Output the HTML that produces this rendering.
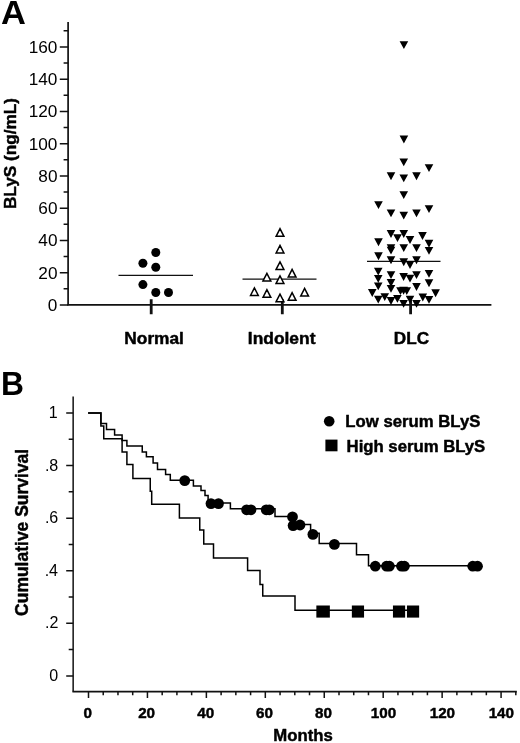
<!DOCTYPE html>
<html lang="en"><head><meta charset="utf-8"><title>Figure</title>
<style>
html,body{margin:0;padding:0;background:#fff;}
body{width:520px;height:743px;overflow:hidden;}
svg{display:block;will-change:transform;}
text{font-family:"Liberation Sans",Arial,Helvetica,sans-serif;fill:#000;}
.b{font-weight:bold;stroke:#000;stroke-width:0.45px;stroke-linejoin:round;}
.h{font-weight:bold;}
</style></head><body>
<svg width="520" height="743" viewBox="0 0 520 743">
<rect width="520" height="743" fill="#fff"/>
<g id="panelA">
<text class="h" x="1.04" y="23.85" font-size="33.02" textLength="24.90" lengthAdjust="spacingAndGlyphs">A</text>
<path d="M68.1 22.1V305.2" fill="none" stroke="#111" stroke-width="1.7"/>
<path d="M67.25 304.9H491.4" fill="none" stroke="#111" stroke-width="1.7"/>
<path d="M59.8 304.90H68.1M59.8 272.65H68.1M59.8 240.40H68.1M59.8 208.15H68.1M59.8 175.90H68.1M59.8 143.65H68.1M59.8 111.40H68.1M59.8 79.15H68.1M59.8 46.90H68.1M63.6 288.77H68.1M63.6 256.52H68.1M63.6 224.27H68.1M63.6 192.02H68.1M63.6 159.77H68.1M63.6 127.52H68.1M63.6 95.27H68.1M63.6 63.02H68.1M63.6 30.77H68.1" fill="none" stroke="#111" stroke-width="1.5"/>
<text x="47.88" y="310.75" font-size="16.90" textLength="9.59" lengthAdjust="spacingAndGlyphs">0</text>
<text x="38.31" y="278.50" font-size="16.90" textLength="19.17" lengthAdjust="spacingAndGlyphs">20</text>
<text x="38.31" y="246.25" font-size="16.90" textLength="19.17" lengthAdjust="spacingAndGlyphs">40</text>
<text x="38.31" y="214.00" font-size="16.90" textLength="19.17" lengthAdjust="spacingAndGlyphs">60</text>
<text x="38.31" y="181.75" font-size="16.90" textLength="19.17" lengthAdjust="spacingAndGlyphs">80</text>
<text x="28.70" y="149.50" font-size="16.90" textLength="28.76" lengthAdjust="spacingAndGlyphs">100</text>
<text x="28.70" y="117.25" font-size="16.90" textLength="28.76" lengthAdjust="spacingAndGlyphs">120</text>
<text x="28.70" y="85.00" font-size="16.90" textLength="28.76" lengthAdjust="spacingAndGlyphs">140</text>
<text x="28.70" y="52.75" font-size="16.90" textLength="28.76" lengthAdjust="spacingAndGlyphs">160</text>
<text class="b" font-size="17.07" transform="translate(16.47 209.06) rotate(-90)" textLength="111.02" lengthAdjust="spacingAndGlyphs">BLyS (ng/mL)</text>
<path d="M151.2 299.2V314.3M282.3 299.2V314.3M410.6 299.2V314.3" fill="none" stroke="#111" stroke-width="2.8"/>
<text class="b" x="124.33" y="344.10" font-size="16.50" textLength="59.59" lengthAdjust="spacingAndGlyphs">Normal</text>
<text class="b" x="247.83" y="344.10" font-size="16.50" textLength="67.61" lengthAdjust="spacingAndGlyphs">Indolent</text>
<text class="b" x="393.84" y="344.10" font-size="16.70" textLength="35.23" lengthAdjust="spacingAndGlyphs">DLC</text>
<path d="M118.5 275.4H193M242.5 279.2H316.5M367 261.3H440.5" fill="none" stroke="#111" stroke-width="1.3"/>
<circle cx="155.8" cy="252.5" r="4.5"/>
<circle cx="142.9" cy="263.2" r="4.5"/>
<circle cx="155.8" cy="267.3" r="4.5"/>
<circle cx="142.9" cy="284.6" r="4.5"/>
<circle cx="155.8" cy="292.5" r="4.5"/>
<circle cx="168.5" cy="292.5" r="4.5"/>
<path d="M276.10 236.30L280.00 228.70L283.90 236.30ZM276.10 253.00L280.00 245.40L283.90 253.00ZM276.10 269.40L280.00 261.80L283.90 269.40ZM288.20 277.10L292.10 269.50L296.00 277.10ZM263.00 280.90L266.90 273.30L270.80 280.90ZM276.10 283.40L280.00 275.80L283.90 283.40ZM250.50 295.50L254.40 287.90L258.30 295.50ZM263.00 297.30L266.90 289.70L270.80 297.30ZM276.10 301.70L280.00 294.10L283.90 301.70ZM288.20 300.30L292.10 292.70L296.00 300.30ZM300.70 296.10L304.60 288.50L308.50 296.10Z" fill="#fff" stroke="#000" stroke-width="1.5" stroke-linejoin="miter"/>
<path d="M399.60 41.30H408.20L403.90 49.10ZM399.60 135.60H408.20L403.90 143.40ZM399.45 158.50H408.05L403.75 166.30ZM424.70 164.20H433.30L429.00 172.00ZM386.70 172.35H395.30L391.00 180.15ZM399.45 174.40H408.05L403.75 182.20ZM412.20 172.35H420.80L416.50 180.15ZM399.45 191.20H408.05L403.75 199.00ZM374.20 201.20H382.80L378.50 209.00ZM386.70 209.40H395.30L391.00 217.20ZM412.20 209.40H420.80L416.50 217.20ZM424.70 205.30H433.30L429.00 213.10ZM399.45 211.70H408.05L403.75 219.50ZM386.70 230.10H395.30L391.00 237.90ZM399.45 230.10H408.05L403.75 237.90ZM393.20 234.20H401.80L397.50 242.00ZM418.20 232.10H426.80L422.50 239.90ZM405.70 236.10H414.30L410.00 243.90ZM374.20 238.35H382.80L378.50 246.15ZM424.70 239.85H433.30L429.00 247.65ZM386.70 244.20H395.30L391.00 252.00ZM386.70 246.80H395.30L391.00 254.60ZM399.45 244.20H408.05L403.75 252.00ZM412.20 244.20H420.80L416.50 252.00ZM424.70 247.00H433.30L429.00 254.80ZM374.20 252.35H382.80L378.50 260.15ZM386.70 256.35H395.30L391.00 264.15ZM412.20 256.35H420.80L416.50 264.15ZM399.45 258.35H408.05L403.75 266.15ZM405.70 261.10H414.30L410.00 268.90ZM373.95 267.80H382.55L378.25 275.60ZM373.95 275.00H382.55L378.25 282.80ZM373.95 282.50H382.55L378.25 290.30ZM373.95 295.70H382.55L378.25 303.50ZM367.95 289.10H376.55L372.25 296.90ZM386.70 271.20H395.30L391.00 279.00ZM386.70 279.10H395.30L391.00 286.90ZM386.70 285.00H395.30L391.00 292.80ZM386.70 297.10H395.30L391.00 304.90ZM380.45 293.20H389.05L384.75 301.00ZM393.10 295.00H401.70L397.40 302.80ZM399.30 273.10H407.90L403.60 280.90ZM399.30 286.85H407.90L403.60 294.65ZM399.30 300.00H407.90L403.60 307.80ZM396.20 287.30H404.80L400.50 295.10ZM402.45 287.30H411.05L406.75 295.10ZM405.70 274.70H414.30L410.00 282.50ZM405.70 295.80H414.30L410.00 303.60ZM412.20 271.20H420.80L416.50 279.00ZM412.20 283.10H420.80L416.50 290.90ZM412.20 300.00H420.80L416.50 307.80ZM418.50 293.60H427.10L422.80 301.40ZM424.70 270.00H433.30L429.00 277.80ZM424.70 279.35H433.30L429.00 287.15ZM424.70 296.00H433.30L429.00 303.80ZM431.30 289.35H439.90L435.60 297.15Z" fill="#000"/>
</g>
<g id="panelB">
<text class="h" x="0.95" y="395.15" font-size="33.53" textLength="22.97" lengthAdjust="spacingAndGlyphs">B</text>
<path d="M73.15 396.5V691.55" fill="none" stroke="#111" stroke-width="1.5"/>
<path d="M72.4 691.55H516.8" fill="none" stroke="#111" stroke-width="1.7"/>
<path d="M66.2 675.90H73.15M66.2 623.32H73.15M66.2 570.74H73.15M66.2 518.16H73.15M66.2 465.58H73.15M66.2 413.00H73.15M68.7 649.61H73.15M68.7 597.03H73.15M68.7 544.45H73.15M68.7 491.87H73.15M68.7 439.29H73.15M88.50 691.55V697.9M103.23 691.55V695.2M117.97 691.55V695.2M132.70 691.55V695.2M147.44 691.55V697.9M162.18 691.55V695.2M176.91 691.55V695.2M191.64 691.55V695.2M206.38 691.55V697.9M221.12 691.55V695.2M235.85 691.55V695.2M250.59 691.55V695.2M265.32 691.55V697.9M280.06 691.55V695.2M294.79 691.55V695.2M309.52 691.55V695.2M324.26 691.55V697.9M339.00 691.55V695.2M353.73 691.55V695.2M368.47 691.55V695.2M383.20 691.55V697.9M397.94 691.55V695.2M412.67 691.55V695.2M427.41 691.55V695.2M442.14 691.55V697.9M456.88 691.55V695.2M471.61 691.55V695.2M486.35 691.55V695.2M501.08 691.55V697.9M515.82 691.55V695.2" fill="none" stroke="#111" stroke-width="1.5"/>
<text x="49.28" y="681.00" font-size="15.60" textLength="8.94" lengthAdjust="spacingAndGlyphs">0</text>
<text x="45.03" y="628.42" font-size="15.60" textLength="13.40" lengthAdjust="spacingAndGlyphs">.2</text>
<text x="44.67" y="575.84" font-size="15.60" textLength="13.40" lengthAdjust="spacingAndGlyphs">.4</text>
<text x="44.91" y="523.26" font-size="15.60" textLength="13.40" lengthAdjust="spacingAndGlyphs">.6</text>
<text x="44.91" y="470.68" font-size="15.60" textLength="13.40" lengthAdjust="spacingAndGlyphs">.8</text>
<text x="48.85" y="418.10" font-size="15.60" textLength="8.94" lengthAdjust="spacingAndGlyphs">1</text>
<text class="b" x="83.38" y="718.40" font-size="15.20" textLength="8.45" lengthAdjust="spacingAndGlyphs">0</text>
<text class="b" x="138.14" y="718.40" font-size="15.20" textLength="16.91" lengthAdjust="spacingAndGlyphs">20</text>
<text class="b" x="197.23" y="718.40" font-size="15.20" textLength="16.91" lengthAdjust="spacingAndGlyphs">40</text>
<text class="b" x="256.00" y="718.40" font-size="15.20" textLength="16.91" lengthAdjust="spacingAndGlyphs">60</text>
<text class="b" x="314.98" y="718.40" font-size="15.20" textLength="16.91" lengthAdjust="spacingAndGlyphs">80</text>
<text class="b" x="370.76" y="718.40" font-size="15.20" textLength="25.36" lengthAdjust="spacingAndGlyphs">100</text>
<text class="b" x="429.70" y="718.40" font-size="15.20" textLength="25.36" lengthAdjust="spacingAndGlyphs">120</text>
<text class="b" x="488.64" y="718.40" font-size="15.20" textLength="25.36" lengthAdjust="spacingAndGlyphs">140</text>
<text class="b" x="273.37" y="740.84" font-size="16.46" textLength="59.54" lengthAdjust="spacingAndGlyphs">Months</text>
<text class="b" font-size="17.76" transform="translate(27.97 615.90) rotate(-90)" textLength="167.11" lengthAdjust="spacingAndGlyphs">Cumulative Survival</text>
<path d="M88.1 413L100.9 413L100.9 423.4L106.5 423.4L106.5 429.6L114.6 429.6L114.6 435L122.1 435L122.1 440.5L126.9 440.5L126.9 445.9L142.25 445.9L142.25 452L146.4 452L146.4 456.8L153.1 456.8L153.1 463.1L157.5 463.1L157.5 469.4L165.6 469.4L165.6 474.4L170.3 474.4L170.3 480.2L193.4 480.2L193.4 485.9L201 485.9L201 490.6L205 490.6L205 495.6L208.1 495.6L208.1 502.9L230.4 502.9L230.4 508.8L275 508.8L275 516.5L293 516.5L293 524.6L310.6 524.6L310.6 533.2L319.2 533.2L319.2 543.4L356.5 543.4L356.5 554.75L368.5 554.75L368.5 565.7L477.5 565.7" fill="none" stroke="#000" stroke-width="1.5" stroke-linejoin="miter"/>
<path d="M88.1 413L100.9 413L100.9 425.9L103.75 425.9L103.75 438.8L122.1 438.8L122.1 452.1L126.9 452.1L126.9 464.6L132.9 464.6L132.9 478.5L150.25 478.5L150.25 491.25L151.7 491.25L151.7 504.2L179.4 504.2L179.4 518.1L199.75 518.1L199.75 530L203.75 530L203.75 544L213.5 544L213.5 557.9L247.6 557.9L247.6 570.6L260 570.6L260 584.4L262.75 584.4L262.75 596L295 596L295 610.3L413 610.3" fill="none" stroke="#000" stroke-width="1.5" stroke-linejoin="miter"/>
<circle cx="184.75" cy="480.6" r="5.4"/>
<circle cx="211" cy="503.6" r="5.4"/>
<circle cx="218.5" cy="503.6" r="5.4"/>
<circle cx="246.6" cy="509.8" r="5.4"/>
<circle cx="251" cy="509.8" r="5.4"/>
<circle cx="266.2" cy="509.8" r="5.4"/>
<circle cx="269.3" cy="509.8" r="5.4"/>
<circle cx="292.5" cy="516.9" r="5.4"/>
<circle cx="293.1" cy="525.6" r="5.4"/>
<circle cx="300" cy="525" r="5.4"/>
<circle cx="312.9" cy="534.4" r="5.4"/>
<circle cx="334.4" cy="544.4" r="5.4"/>
<circle cx="375.3" cy="566.2" r="5.4"/>
<circle cx="386.5" cy="566.2" r="5.4"/>
<circle cx="389.4" cy="566.2" r="5.4"/>
<circle cx="401.5" cy="566.2" r="5.4"/>
<circle cx="404.4" cy="566.2" r="5.4"/>
<circle cx="472.75" cy="566.2" r="5.4"/>
<circle cx="477.5" cy="566.2" r="5.4"/>
<rect x="316.35" y="605.5" width="13.5" height="12.1"/>
<rect x="351.85" y="605.5" width="12.2" height="12.1"/>
<rect x="392.95" y="605.5" width="12.2" height="12.1"/>
<rect x="406.95" y="605.5" width="12.2" height="12.1"/>
<circle cx="329.2" cy="421.3" r="5.3"/>
<rect x="325.4" y="439.6" width="12.1" height="11.7"/>
<text class="b" x="345.37" y="426.90" font-size="16.06" textLength="134.97" lengthAdjust="spacingAndGlyphs">Low serum BLyS</text>
<text class="b" x="346.57" y="451.85" font-size="16.06" textLength="138.71" lengthAdjust="spacingAndGlyphs">High serum BLyS</text>
</g>
</svg>
</body></html>
